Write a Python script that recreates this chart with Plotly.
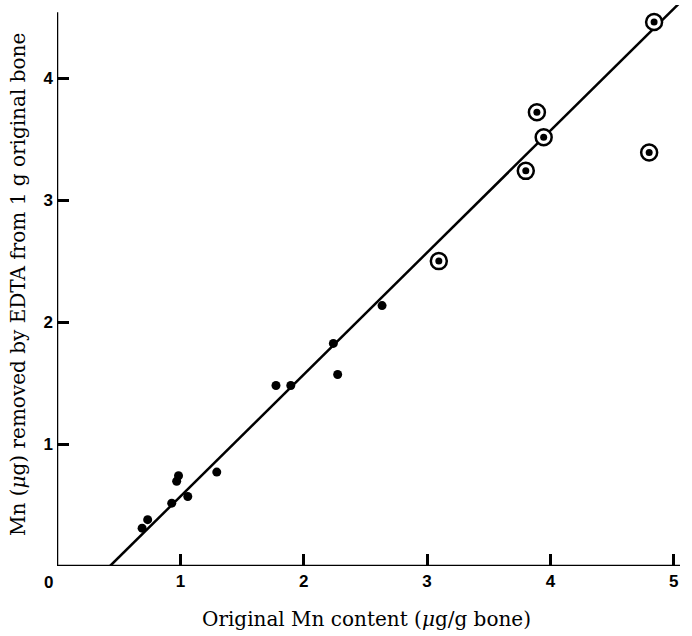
import plotly.graph_objects as go

# Solid points (original Mn content, Mn removed by EDTA)
solid_x = [0.69, 0.735, 0.93, 0.97, 0.985, 1.06, 1.295, 1.775, 1.895, 2.24, 2.275, 2.635]
solid_y = [0.31, 0.38, 0.515, 0.695, 0.74, 0.57, 0.77, 1.48, 1.48, 1.825, 1.57, 2.135]

# Circled points
ring_x = [3.095, 3.80, 3.89, 3.945, 4.80, 4.84]
ring_y = [2.50, 3.24, 3.72, 3.515, 3.39, 4.46]

# Fitted regression line end points
line_x = [0.43, 5.04]
line_y = [0.0, 4.61]

x_ticks = [1, 2, 3, 4, 5]
y_ticks = [1, 2, 3, 4]

x_title = "Original Mn content (<i>μ</i>g/g bone)"
y_title = "Mn (<i>μ</i>g) removed by EDTA from 1 g original bone"

W, H = 692, 636
ML, MR, MT, MB = 57, 12, 5, 70
PW, PH = W - ML - MR, H - MT - MB

def px(xp):
    return (xp - ML) / PW

def py(yp):
    return (H - MB - yp) / PH

tick_font = dict(family="Liberation Sans", size=17, color="black", weight="bold")
title_font = dict(family="DejaVu Serif", size=20, color="black")

fig = go.Figure()
fig.add_trace(go.Scatter(x=line_x, y=line_y, mode="lines", cliponaxis=False,
                         line=dict(color="black", width=2.5), showlegend=False))
fig.add_trace(go.Scatter(x=solid_x, y=solid_y, mode="markers",
                         marker=dict(color="black", size=9), showlegend=False))
fig.add_trace(go.Scatter(x=ring_x, y=ring_y, mode="markers", cliponaxis=False,
                         marker=dict(color="white", size=16, line=dict(color="black", width=2.5)),
                         showlegend=False))
fig.add_trace(go.Scatter(x=ring_x, y=ring_y, mode="markers", cliponaxis=False,
                         marker=dict(color="black", size=7), showlegend=False))

# axis lines
fig.add_shape(type="line", x0=0, x1=0, y0=0, y1=4.54, xref="x", yref="y",
              line=dict(color="black", width=2.5))
fig.add_shape(type="line", x0=0, x1=5.05, y0=0, y1=0, xref="x", yref="y",
              line=dict(color="black", width=2.5))

fig.add_annotation(x=px(48), y=py(582), xref="paper", yref="paper", text="0", showarrow=False,
                   font=tick_font, xanchor="center", yanchor="middle")
fig.add_annotation(x=px(366), y=py(619), xref="paper", yref="paper", text=x_title,
                   showarrow=False, font=title_font, xanchor="center", yanchor="middle")
fig.add_annotation(x=px(18), y=py(285), xref="paper", yref="paper", text=y_title,
                   showarrow=False, font=title_font, textangle=-90,
                   xanchor="center", yanchor="middle")

fig.update_layout(
    width=W, height=H,
    margin=dict(l=ML, r=MR, t=MT, b=MB),
    plot_bgcolor="white", paper_bgcolor="white",
    xaxis=dict(range=[0, 5.05], tickvals=x_ticks, ticks="inside", ticklen=12, tickwidth=2.5,
               tickcolor="black", showgrid=False, zeroline=False, showline=False,
               automargin=False, tickfont=tick_font, ticklabelstandoff=3),
    yaxis=dict(range=[0, 4.6], tickvals=y_ticks, ticks="inside", ticklen=12, tickwidth=2.5,
               tickcolor="black", showgrid=False, zeroline=False, showline=False,
               automargin=False, tickfont=tick_font, ticklabelstandoff=3),
)
fig.write_html("out.html", config={"displayModeBar": False},
               post_script="document.body.style.margin='0';")
